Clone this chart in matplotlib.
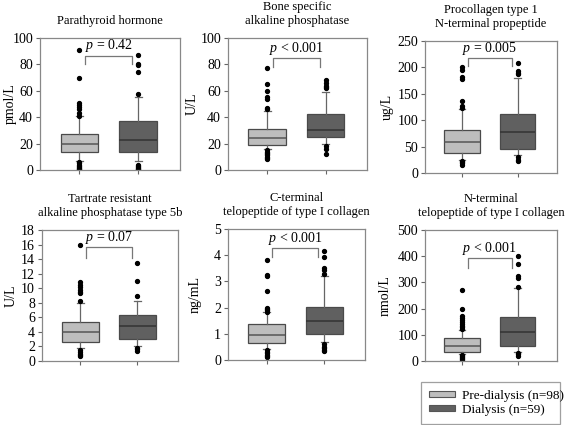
import matplotlib
matplotlib.use('Agg')
import matplotlib.pyplot as plt
from matplotlib.patches import Patch

plt.rcParams['font.family'] = 'Liberation Serif'
plt.rcParams['font.size'] = 9
plt.rcParams['mathtext.fontset'] = 'custom'
plt.rcParams['mathtext.it'] = 'Liberation Serif:italic'
plt.rcParams['mathtext.rm'] = 'Liberation Serif'

# panel titles, units, axis limits, ticks
titles = ['Parathyroid hormone',
          'Bone specific\nalkaline phosphatase',
          'Procollagen type 1\nN-terminal propeptide',
          'Tartrate resistant\nalkaline phosphatase type 5b',
          'C-terminal\ntelopeptide of type I collagen',
          'N-terminal\ntelopeptide of type I collagen']
units = ['pmol/L', 'U/L', 'ug/L', 'U/L', 'ng/mL', 'nmol/L']
ymax = [100, 100, 250, 18, 5, 500]
ystep = [20, 20, 50, 2, 1, 100]
pvals = ['= 0.42', '< 0.001', '= 0.005', '= 0.07', '< 0.001', '< 0.001']
# bracket: (leg bottom left, leg bottom right, top)
brackets = [(80, 80, 86.5), (78, 78, 84.7), (202, 202, 218),
            (14.2, 14.2, 15.6), (3.93, 3.93, 4.27), (356, 356, 392)]

# box stats: (whislo, q1, median, q3, whishi)
pre_stats = [(7, 13.5, 19.8, 27.5, 40.7),
             (16, 19, 24.4, 31, 45),
             (24, 38.8, 57.9, 81.4, 121),
             (1.74, 2.66, 4.03, 5.3, 8.0),
             (0.42, 0.64, 0.96, 1.39, 1.82),
             (26.7, 35.6, 58.5, 89, 118)]
dia_stats = [(6.6, 14, 23, 37, 55.5),
             (20, 24.7, 30, 42.7, 59),
             (33.7, 45.8, 78, 112, 180),
             (2.1, 3.0, 4.85, 6.27, 8.25),
             (0.68, 1.0, 1.5, 2.02, 3.19),
             (35.6, 57, 109, 167, 280)]
pre_out = [[91, 69.5, 51, 49.5, 48, 46, 43, 41, 6, 5, 4, 3, 2, 1.5, 1, 0.5],
           [77, 65, 60, 55, 54, 47, 46, 15, 14, 13, 12, 11, 10, 9, 8],
           [200, 195, 182, 178, 137, 127, 124, 22, 20, 18, 16],
           [15.9, 10.8, 10.5, 10.2, 9.8, 9.5, 9.3, 8.2, 1.5, 1.2, 1.0, 0.8, 0.7],
           [3.8, 3.25, 3.2, 2.65, 2.0, 1.95, 1.9, 1.85, 0.38, 0.3, 0.25, 0.2, 0.15, 0.1],
           [272, 200, 170, 165, 158, 150, 142, 135, 128, 122, 22, 18, 15, 10, 8, 5]]
dia_out = [[87.5, 80.5, 79.5, 74, 57.5, 4, 3, 2, 1.5, 1, 0.5],
           [68, 66, 64, 63, 62, 18, 16, 12],
           [208, 193, 190, 187, 30, 25, 22],
           [13.5, 11.0, 8.9, 1.8, 1.6, 1.4],
           [4.15, 3.95, 3.5, 3.45, 3.3, 0.6, 0.5, 0.45, 0.4, 0.35],
           [402, 372, 325, 318, 283, 30, 25, 20]]

groups = ['Pre-dialysis (n=98)', 'Dialysis (n=59)']
colors = ['#bdbdbd', '#606060']
medcolors = ['#555555', '#333333']

W, H = 567, 425
# axes rectangles in pixels: left, top, right, bottom
rects = [(40, 38, 180, 170), (228, 38, 367, 170), (425, 41, 557, 173),
         (42, 230, 178, 361), (228, 229, 365, 360), (425, 230, 557, 361)]
label_x = [-0.165, -0.21, -0.24, -0.18, -0.19, -0.25]

fig = plt.figure(figsize=(W / 100, H / 100), dpi=100)

for i in range(6):
    l, t, r, b = rects[i]
    ax = fig.add_axes([l / W, 1 - b / H, (r - l) / W, (b - t) / H])
    stats = []
    for s, o in [(pre_stats[i], pre_out[i]), (dia_stats[i], dia_out[i])]:
        stats.append(dict(whislo=s[0], q1=s[1], med=s[2], q3=s[3], whishi=s[4], fliers=o))
    bp = ax.bxp(stats, positions=[1, 2], widths=0.64, patch_artist=True,
                showfliers=True,
                whiskerprops=dict(color='#666666', lw=0.9),
                capprops=dict(color='#666666', lw=0.9),
                capwidths=0.12,
                flierprops=dict(marker='o', markersize=2.8, markerfacecolor='black',
                                markeredgecolor='black', linestyle='none'))
    for j, box in enumerate(bp['boxes']):
        box.set_facecolor(colors[j])
        box.set_edgecolor('#4a4a4a')
        box.set_linewidth(0.9)
        bp['medians'][j].set_color(medcolors[j])
        bp['medians'][j].set_linewidth(1.1)

    ax.set_xlim(0.33, 2.71)
    ax.set_ylim(0, ymax[i])
    ax.set_yticks([k * ystep[i] for k in range(int(round(ymax[i] / ystep[i])) + 1)])
    ax.set_xticks([1, 2])
    ax.set_xticklabels([])
    ax.tick_params(direction='out', length=3, width=0.8, color='#666666', pad=2,
                   labelsize=10)
    for sp in ax.spines.values():
        sp.set_color('#888888')
        sp.set_linewidth(0.9)
    ax.set_ylabel(units[i], fontsize=10)
    ax.yaxis.set_label_coords(label_x[i], 0.5)
    ax.set_title(titles[i], pad=10, fontsize=9, linespacing=1.2)

    # significance bracket
    lo1, lo2, top = brackets[i]
    ax.plot([1.1, 1.1, 1.9, 1.9], [lo1, top, top, lo2], color='#777777', lw=0.9)
    ax.text(1.5, top + ymax[i] * 0.01, '$p$ ' + pvals[i], ha='center', va='bottom',
            fontsize=10)

handles = [Patch(facecolor=colors[0], edgecolor='#555555', lw=0.8),
           Patch(facecolor=colors[1], edgecolor='#555555', lw=0.8)]
leg = fig.legend(handles, groups, loc='lower left',
                 bbox_to_anchor=(421 / W, 1 - 424 / H, 139 / W, 46 / H), mode='expand',
                 frameon=True, fancybox=False, handlelength=2.0, handleheight=0.3,
                 fontsize=9.5, borderpad=0.6, labelspacing=0.15, handletextpad=0.5,
                 borderaxespad=0)
leg.get_frame().set_edgecolor('#888888')
leg.get_frame().set_linewidth(0.9)

fig.savefig('out.png', dpi=100)
